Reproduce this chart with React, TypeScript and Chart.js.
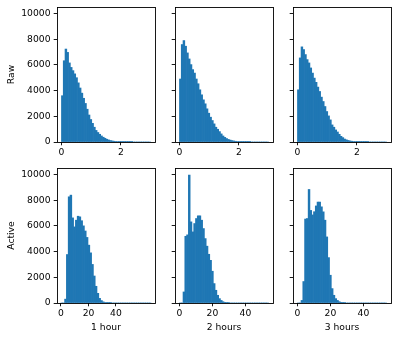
import React, { useEffect, useRef } from 'react';
import { Chart, registerables } from 'chart.js';

Chart.register(...registerables);

// ---------------- data ----------------
const rawBinWidth = 0.06;
const raw1Hour = [3600, 6320, 7230, 6970, 6150, 5800, 5550, 5300, 5000, 4600, 4200, 3800, 3400, 3000, 2550, 2100, 1750, 1450, 1150, 900, 740, 600, 470, 370, 290, 215, 160, 115, 85, 60, 42, 30, 21, 15, 10, 7, 5, 4, 3, 2, 0, 0, 0, 0, 0, 0, 0, 0, 0, 0];
const raw2Hours = [4900, 7580, 7890, 7450, 6930, 6460, 6020, 5630, 5360, 4900, 4530, 4060, 3670, 3280, 2970, 2580, 2240, 1930, 1670, 1410, 1150, 990, 810, 630, 470, 360, 270, 200, 150, 110, 80, 58, 42, 30, 21, 15, 11, 8, 6, 4, 0, 0, 0, 0, 0, 0, 0, 0, 0, 0];
const raw3Hours = [4060, 6540, 7400, 7190, 6800, 6410, 6150, 5760, 5360, 4970, 4640, 4270, 3930, 3490, 3150, 2760, 2370, 2030, 1720, 1330, 1150, 940, 780, 600, 440, 340, 230, 170, 120, 85, 60, 42, 30, 21, 15, 10, 7, 5, 4, 3, 0, 0, 0, 0, 0, 0, 0, 0, 0, 0];

const active1HourBinWidth = 1.31;
const active1Hour = [0, 0, 300, 3770, 8260, 8390, 6620, 5920, 6440, 6750, 6700, 6400, 6000, 5600, 5100, 4500, 3900, 3000, 2100, 1300, 750, 360, 190, 90, 40, 20, 10, 5, 0, 0, 0, 0, 0, 0, 0, 0, 0, 0, 0, 0, 0, 0, 0, 0, 0, 0, 0, 0, 0, 0];
const activeBinWidth = 1.08;
const active2Hours = [0, 0, 860, 5190, 5300, 9950, 6310, 5530, 6180, 6570, 6780, 6780, 6440, 5790, 5010, 4420, 3790, 3320, 2470, 1510, 990, 600, 340, 200, 100, 50, 25, 12, 0, 0, 0, 0, 0, 0, 0, 0, 0, 0, 0, 0, 0, 0, 0, 0, 0, 0, 0, 0, 0, 0];
const active3Hours = [0, 0, 200, 1670, 6530, 6570, 8830, 7200, 6850, 7100, 7550, 7850, 7850, 7480, 7090, 6440, 5140, 3530, 2160, 1120, 600, 340, 200, 100, 50, 25, 12, 0, 0, 0, 0, 0, 0, 0, 0, 0, 0, 0, 0, 0, 0, 0, 0, 0, 0, 0, 0, 0, 0, 0];

const yTicks = [0, 2000, 4000, 6000, 8000, 10000];
const rawXTicks = [0, 2];
const activeXTicks = [0, 20, 40];
const rowTitles = ['Raw', 'Active'];
const colTitles = ['1 hour', '2 hours', '3 hours'];

// ---------------- style / layout ----------------
const FONT_FAMILY = "'DejaVu Sans', sans-serif";
const FONT_SIZE = 9.2;
const BAR_COLOR = '#1f77b4';
const COL_LEFT = [57, 175, 293];
const ROW_TOP = [7, 168];
const FRAME_W = 98;
const FRAME_H = 135;
const Y_MAX = 10500;

const framePlugin = {
  id: 'mplFrame',
  afterDraw(chart: any) {
    const { ctx, chartArea } = chart;
    const l = Math.round(chartArea.left) + 0.5;
    const t = Math.round(chartArea.top) + 0.5;
    const r = Math.round(chartArea.right) + 0.5;
    const b = Math.round(chartArea.bottom) + 0.5;
    ctx.save();
    ctx.strokeStyle = '#000';
    ctx.lineWidth = 0.9;
    ctx.strokeRect(l, t, r - l, b - t);
    ctx.restore();
  },
};

type Spec = {
  values: number[];
  binStart: number;
  binWidth: number;
  xMin: number;
  xMax: number;
  xTicks: number[];
  row: number;
  col: number;
};

const specs: Spec[] = [
  { values: raw1Hour, binStart: 0, binWidth: rawBinWidth, xMin: -0.15, xMax: 3.15, xTicks: rawXTicks, row: 0, col: 0 },
  { values: raw2Hours, binStart: 0, binWidth: rawBinWidth, xMin: -0.15, xMax: 3.15, xTicks: rawXTicks, row: 0, col: 1 },
  { values: raw3Hours, binStart: 0, binWidth: rawBinWidth, xMin: -0.15, xMax: 3.15, xTicks: rawXTicks, row: 0, col: 2 },
  { values: active1Hour, binStart: 0, binWidth: active1HourBinWidth, xMin: -2.9, xMax: 68.4, xTicks: activeXTicks, row: 1, col: 0 },
  { values: active2Hours, binStart: 0, binWidth: activeBinWidth, xMin: -2.7, xMax: 56.7, xTicks: activeXTicks, row: 1, col: 1 },
  { values: active3Hours, binStart: 0, binWidth: activeBinWidth, xMin: -2.7, xMax: 56.7, xTicks: activeXTicks, row: 1, col: 2 },
];

function geometry(s: Spec) {
  const W = s.col === 0 ? 57 : 18;
  const T = 7;
  const R = 4;
  const H = s.row === 0 ? 18 : 339 - (ROW_TOP[1] + FRAME_H);
  return {
    W, T, R, H,
    left: COL_LEFT[s.col] - W,
    top: ROW_TOP[s.row] - T,
    width: W + FRAME_W + R,
    height: T + FRAME_H + H,
  };
}

function Panel({ spec }: { spec: Spec }) {
  const ref = useRef<HTMLCanvasElement>(null);
  const g = geometry(spec);
  useEffect(() => {
    const font = { family: FONT_FAMILY, size: FONT_SIZE };
    const showY = spec.col === 0;
    const xTitle = spec.row === 1 ? colTitles[spec.col] : '';
    const yTitle = spec.col === 0 ? rowTitles[spec.row] : '';
    const points = spec.values.map((v, i) => ({ x: spec.binStart + (i + 0.5) * spec.binWidth, y: v }));
    const chart = new Chart(ref.current as HTMLCanvasElement, {
      type: 'bar',
      data: {
        datasets: [
          {
            data: points as any,
            backgroundColor: BAR_COLOR,
            borderWidth: 0,
            barPercentage: 1,
            categoryPercentage: 1,
          },
        ],
      },
      plugins: [framePlugin],
      options: {
        responsive: false,
        animation: false,
        events: [],
        devicePixelRatio: 1,
        layout: { padding: { top: g.T, right: g.R, left: 0, bottom: 0 } },
        plugins: { legend: { display: false }, tooltip: { enabled: false } },
        scales: {
          x: {
            type: 'linear',
            min: spec.xMin,
            max: spec.xMax,
            offset: false,
            afterBuildTicks: (s: any) => {
              s.ticks = spec.xTicks.map((v) => ({ value: v }));
            },
            afterFit: (s: any) => {
              s.height = g.H;
              s.paddingLeft = 0;
              s.paddingRight = 0;
              s.paddingTop = 0;
              s.paddingBottom = 0;
            },
            grid: { display: true, drawOnChartArea: false, drawTicks: true, tickLength: 3.3, color: '#000', lineWidth: 0.9, offset: false },
            border: { display: false },
            ticks: {
              autoSkip: false,
              maxRotation: 0,
              minRotation: 0,
              padding: 1.5,
              color: '#000',
              font,
              callback: (v: any) => String(v),
            },
            title: { display: !!xTitle, text: xTitle, color: '#000', font, padding: { top: 0, bottom: 5.5 } },
          },
          y: {
            type: 'linear',
            min: 0,
            max: Y_MAX,
            afterBuildTicks: (s: any) => {
              s.ticks = yTicks.map((v) => ({ value: v }));
            },
            afterFit: (s: any) => {
              s.width = g.W;
              s.paddingLeft = 0;
              s.paddingRight = 0;
              s.paddingTop = 0;
              s.paddingBottom = 0;
            },
            grid: { display: true, drawOnChartArea: false, drawTicks: true, tickLength: 3.3, color: '#000', lineWidth: 0.9 },
            border: { display: false },
            ticks: {
              autoSkip: false,
              padding: 3.2,
              color: '#000',
              font,
              callback: (v: any) => (showY ? String(v) : ''),
            },
            title: { display: !!yTitle, text: yTitle, color: '#000', font, padding: { top: 6.3, bottom: 0 } },
          },
        },
      } as any,
    });
    return () => chart.destroy();
  }, []);
  return (
    <canvas
      ref={ref}
      width={g.width}
      height={g.height}
      style={{ position: 'absolute', left: g.left, top: g.top, width: g.width, height: g.height }}
    />
  );
}

export default function App() {
  return (
    <div style={{ position: 'absolute', left: 0, top: 0, width: 399, height: 339, background: '#fff' }}>
      {specs.map((s, i) => (
        <Panel key={i} spec={s} />
      ))}
    </div>
  );
}
